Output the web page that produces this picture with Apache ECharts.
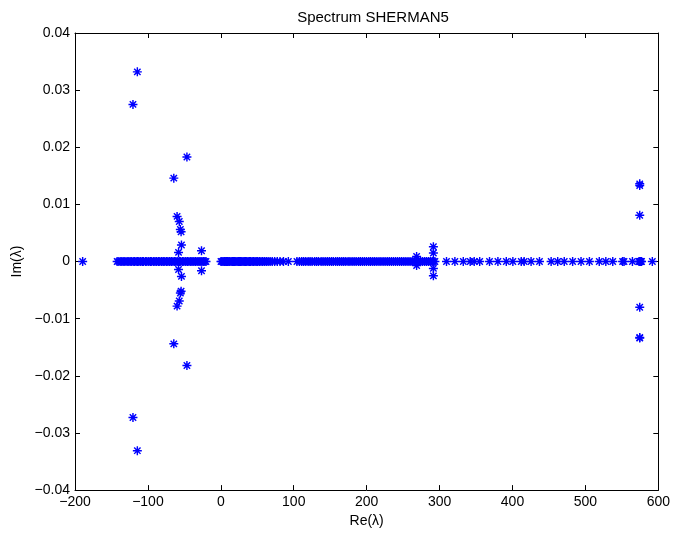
<!DOCTYPE html>
<html>
<head>
<meta charset="utf-8">
<script src="https://cdn.jsdelivr.net/npm/echarts@6/dist/echarts.min.js"></script>
<style>html,body{margin:0;padding:0;background:#fff;}#c{width:673px;height:533px;}</style>
</head>
<body>
<div id="c"></div>
<script>
var titleText = 'Spectrum SHERMAN5';
var xName = 'Re(\u03bb)';
var yName = 'Im(\u03bb)';
var xTicks = [-200, -100, 0, 100, 200, 300, 400, 500, 600];
var yTicks = [-0.04, -0.03, -0.02, -0.01, 0, 0.01, 0.02, 0.03, 0.04];

// purely real eigenvalues (Im = 0)
var realLeft = [-189.5, -142.2, -139.8, -137.1, -135.5, -133.0, -131.4, -128.7, -127.1, -124.6, -122.9, -120.3, -118.5, -116.2, -114.0, -112.3, -109.8, -107.6, -105.9, -103.1, -101.4, -98.8, -96.5, -94.7, -92.0, -90.2, -87.9, -85.4, -83.6, -81.1, -79.0, -76.8, -74.3, -72.5, -70.1, -67.9, -65.6, -63.2, -61.5, -59.0, -56.8, -54.9, -52.3, -50.6, -48.1, -45.9, -43.7, -41.2, -39.4, -37.0, -34.8, -32.5, -30.1, -28.4, -26.0, -24.1, -21.9, -20.3];
var realMid = [0.2, 1.5, 3.1, 4.8, 6.0, 7.7, 9.4, 11.0, 12.3, 14.1, 15.8, 17.2, 19.0, 20.6, 22.3, 23.9, 25.4, 27.2, 28.8, 30.5, 32.1, 33.9, 35.6, 37.4, 39.2, 41.0, 42.9, 44.7, 46.8, 48.5, 50.6, 52.9, 55.1, 57.4, 59.8, 62.3, 64.9, 67.6, 70.5, 73.8, 77.4, 81.2, 85.9, 92.6];
var realRight = [104.4, 107.8, 110.9, 113.6, 116.5, 119.7, 122.4, 125.2, 128.6, 131.3, 134.0, 137.5, 140.2, 143.1, 146.0, 148.8, 151.7, 154.3, 157.5, 160.2, 163.0, 165.9, 168.6, 171.4, 174.5, 177.1, 180.0, 182.8, 185.6, 188.7, 191.3, 194.2, 197.0, 199.8, 202.9, 205.5, 208.4, 211.1, 214.0, 216.9, 219.6, 222.5, 225.3, 228.2, 231.0, 233.9, 236.7, 239.6, 242.4, 245.3, 248.1, 251.0, 253.8, 256.7, 259.5, 262.4, 265.1, 268.5, 270.9, 273.6, 276.4, 279.3, 282.0, 284.8, 287.5, 289.9, 291.5, 293.6];
var realSparse = [309.5, 321.0, 332.5, 342.0, 347.5, 355.0, 368.5, 380.0, 391.5, 400.5, 412.0, 416.0, 425.5, 437.0, 453.0, 462.0, 471.0, 482.5, 494.0, 505.5, 519.0, 528.0, 537.5, 551.0, 553.0, 564.5, 573.5, 574.5, 575.0, 576.0, 577.0, 591.8];

// complex conjugate eigenvalues
var complexRe = [-114.5, -114.5, -120.5, -120.5, -46.5, -46.5, -64.5, -64.5, -60.0, -60.0, -57.0, -57.0, -55.5, -55.5, -54.5, -54.5, -54.0, -54.0, -58.0, -58.0, -26.5, -26.5, 268.5, 268.5, 291.5, 291.5, 291.5, 291.5, 574.5, 574.5, 574.5, 574.5, 574.5, 574.5];
var complexIm = [0.0332, -0.0331, 0.0275, -0.0273, 0.0183, -0.0182, 0.0146, -0.0144, 0.0079, -0.0078, 0.0070, -0.0069, 0.0056, -0.0055, 0.0052, -0.0052, 0.0029, -0.0026, 0.0016, -0.0014, 0.0019, -0.0016, 0.0009, -0.0007, 0.0026, -0.0025, 0.0015, -0.0012, 0.0136, -0.0134, 0.0133, -0.0133, 0.0081, -0.0080];

var pts = [];
[realLeft, realMid, realRight, realSparse].forEach(function (arr) {
  arr.forEach(function (v) { pts.push([v, 0]); });
});
complexRe.forEach(function (v, i) { pts.push([v, complexIm[i]]); });

var star = 'path://M0 42 L100 42 L100 58 L0 58 Z M42 0 L58 0 L58 100 L42 100 Z M20 9 L91 80 L80 91 L9 20 Z M80 9 L91 20 L20 91 L9 80 Z';

function fmt(v, dec) {
  if (Math.abs(v) < 1e-12) return '0';
  var s = dec ? Math.abs(v).toFixed(dec) : String(Math.abs(v));
  return (v < 0 ? '\u2212' : '') + s;
}

var font = 'Liberation Sans, Arial, Helvetica, sans-serif';
var axisCommon = {
  axisLine: { show: true, onZero: false, lineStyle: { color: '#000', width: 1 } },
  axisTick: { show: true, inside: true, length: 5, lineStyle: { color: '#000' } },
  splitLine: { show: false }
};

var chart = echarts.init(document.getElementById('c'), null, { renderer: 'canvas' });
chart.setOption({
  animation: false,
  backgroundColor: '#fff',
  title: {
    text: titleText, left: 368, top: 5, textAlign: 'center',
    textStyle: { fontFamily: font, fontSize: 15, fontWeight: 'normal', color: '#000' }
  },
  grid: { left: 75, right: 12, top: 33, bottom: 39, containLabel: false },
  xAxis: [
    Object.assign({
      type: 'value', position: 'bottom', min: xTicks[0], max: xTicks[xTicks.length - 1], interval: 100,
      name: xName, nameLocation: 'middle', nameGap: 19,
      nameTextStyle: { fontFamily: font, fontSize: 14, color: '#000' },
      axisLabel: { margin: 5, fontFamily: font, fontSize: 14, color: '#000', formatter: function (v) { return fmt(v, 0); } }
    }, axisCommon),
    Object.assign({
      type: 'value', position: 'top', min: xTicks[0], max: xTicks[xTicks.length - 1], interval: 100,
      axisLabel: { show: false }
    }, axisCommon)
  ],
  yAxis: [
    Object.assign({
      type: 'value', position: 'left', min: yTicks[0], max: yTicks[yTicks.length - 1], interval: 0.01,
      name: yName, nameLocation: 'middle', nameGap: 49,
      nameTextStyle: { fontFamily: font, fontSize: 14, color: '#000' },
      axisLabel: { margin: 5, fontFamily: font, fontSize: 14, color: '#000', formatter: function (v) { return fmt(v, 2); } }
    }, axisCommon),
    Object.assign({
      type: 'value', position: 'right', min: yTicks[0], max: yTicks[yTicks.length - 1], interval: 0.01,
      axisLabel: { show: false }
    }, axisCommon)
  ],
  series: [{
    type: 'scatter',
    xAxisIndex: 0, yAxisIndex: 0,
    symbol: star, symbolSize: 9,
    itemStyle: { color: '#0000ff', opacity: 1 },
    emphasis: { disabled: true },
    data: pts
  }]
});
</script>
</body>
</html>
